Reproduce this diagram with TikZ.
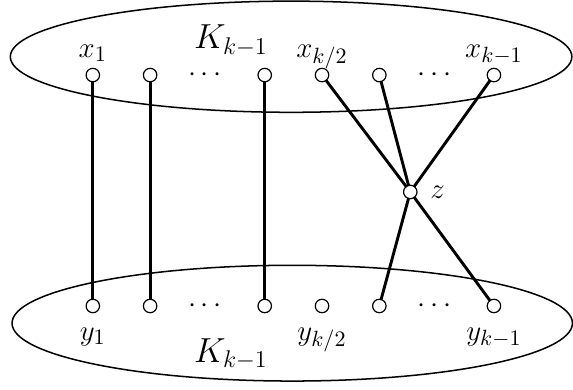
\documentclass[tikz,border=0pt]{standalone}
\usepackage{amsmath}
\usetikzlibrary{calc,positioning}

\tikzset{
  vtx/.style={circle,draw,fill=white,inner sep=0pt,minimum size=0.235cm,line width=0.6pt},
  blob/.style={line width=0.75pt},
  edge/.style={line width=1.45pt},
  lbl/.style={anchor=base,font=\fontsize{15}{18}\selectfont},
  dotsnode/.style={inner sep=0pt,font=\fontsize{14}{17}\selectfont},
  setname/.style={inner sep=0pt,font=\fontsize{16.5}{20}\selectfont}
}

\begin{document}
\begin{tikzpicture}[line cap=round,line join=round]
  \useasboundingbox (0,0) rectangle (10,6.79);

  % the two copies of K_{k-1}
  \draw[blob] (5.08,5.80) ellipse [x radius=4.90,y radius=0.97];
  \draw[blob] (5.10,1.15) ellipse [x radius=4.89,y radius=1.01];
  \node[setname] (ktop) at (4.03,6.08) {$K_{k-1}$};
  \node[setname] (kbot) at (4.03,0.61) {$K_{k-1}$};

  % vertices
  \foreach \i in {0,1,3,4,5,7} {
    \node[vtx] (a\i) at (1.62+\i,5.48) {};
    \node[vtx] (b\i) at (1.62+\i,1.45) {};
  }
  \foreach \i in {2,6} {
    \node[dotsnode] (da\i) at (1.62+\i,5.48) {$\cdots$};
    \node[dotsnode] (db\i) at (1.62+\i,1.45) {$\cdots$};
  }
  \node[vtx] (z) at (7.16,3.44) {};
  \node[right=0.1cm of z,font=\fontsize{15}{18}\selectfont] (lz) {$z$};

  % labels
  \node[lbl] (lx1) at ($(a0)+(0,0.31)$) {$x_1$};
  \node[lbl] (lxh) at ($(a4)+(0,0.31)$) {$x_{k/2}$};
  \node[lbl] (lxk) at ($(a7)+(0,0.31)$) {$x_{k-1}$};
  \node[lbl] (ly1) at ($(b0)+(0,-0.6)$) {$y_1$};
  \node[lbl] (lyh) at ($(b4)+(0,-0.6)$) {$y_{k/2}$};
  \node[lbl] (lyk) at ($(b7)+(0,-0.6)$) {$y_{k-1}$};

  % matching and the extra vertex
  \foreach \i in {0,1,3} \draw[edge] (a\i) -- (b\i);
  \draw[edge] (a4) -- (z) -- (b7);
  \draw[edge] (a5) -- (z) -- (b5);
  \draw[edge] (a7) -- (z);
\end{tikzpicture}
\end{document}
